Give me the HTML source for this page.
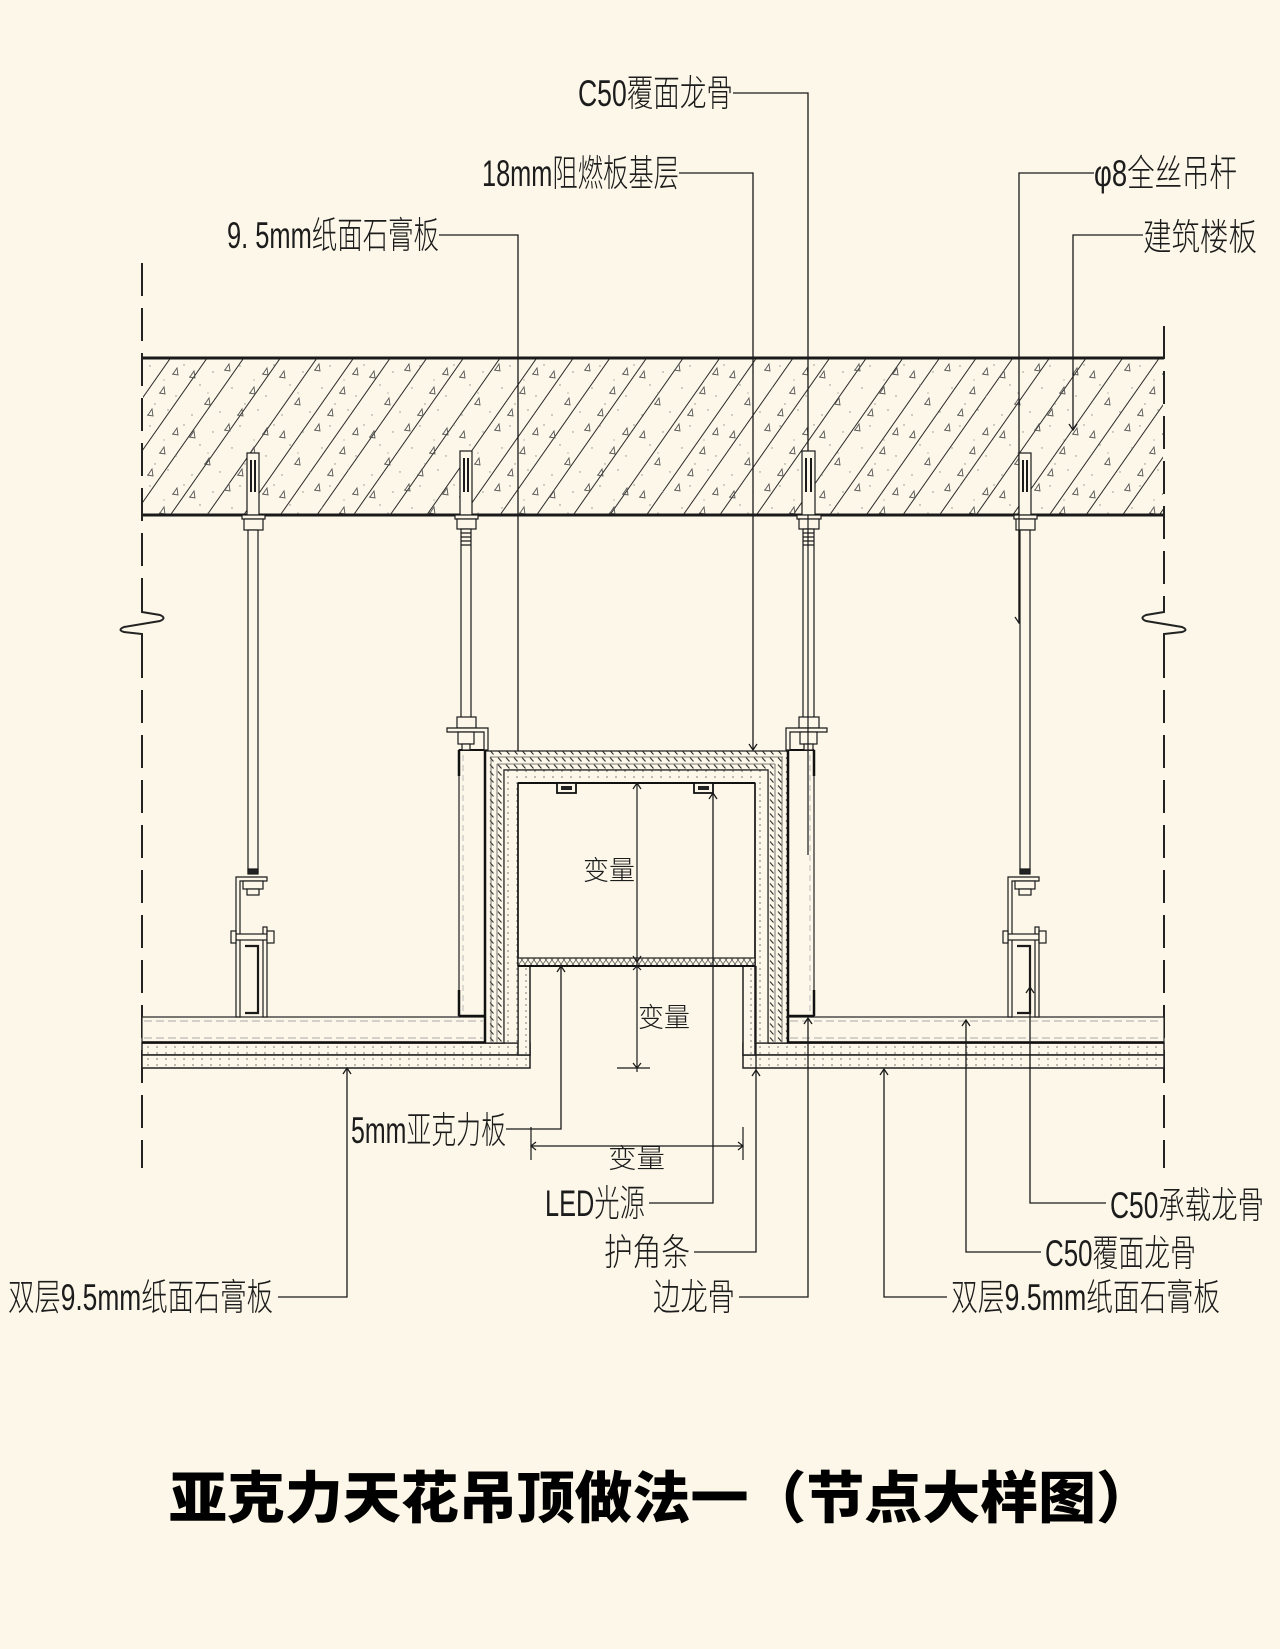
<!DOCTYPE html>
<html><head><meta charset="utf-8">
<style>
html,body{margin:0;padding:0;background:#fcf7e8;}
svg{display:block}
.l{font-family:"Liberation Sans Narrow","Liberation Sans","Noto Sans CJK SC",sans-serif;font-size:37px;fill:#1c1c1c;font-weight:300;}
.v{font-family:"Liberation Sans","Noto Sans CJK SC",sans-serif;font-size:27px;fill:#1c1c1c;font-weight:300;}
.t{font-family:"Liberation Sans","Noto Sans CJK SC",sans-serif;font-size:56px;font-weight:900;fill:#000;}
</style></head>
<body>
<svg width="1280" height="1649" viewBox="0 0 1280 1649" xmlns="http://www.w3.org/2000/svg">
<defs>
<pattern id="hatch" width="30" height="10" patternUnits="userSpaceOnUse" patternTransform="rotate(35)">
<line x1="15" y1="0" x2="15" y2="10" stroke="#2a2a2a" stroke-width="1"/></pattern>
<pattern id="speck" width="90" height="60" patternUnits="userSpaceOnUse">
<path d="M10 17 l4 -6 l1 7 l-6 -1 M45 10 l4 -6 l1 7 l-6 -1 M70 33 l4 -6 l1 7 l-6 -1 M25 44 l4 -6 l1 7 l-6 -1 M58 55 l4 -6 l1 7 l-6 -1 M83 14 l4 -6 l1 7 l-6 -1" fill="none" stroke="#555" stroke-width="0.9"/>
<g fill="#8a8a8a"><circle cx="4" cy="5" r="0.7"/><circle cx="20" cy="25" r="0.7"/><circle cx="33" cy="12" r="0.7"/><circle cx="52" cy="28" r="0.7"/><circle cx="65" cy="44" r="0.7"/><circle cx="78" cy="50" r="0.7"/><circle cx="40" cy="52" r="0.7"/><circle cx="12" cy="55" r="0.7"/><circle cx="86" cy="36" r="0.7"/><circle cx="60" cy="6" r="0.7"/><circle cx="28" cy="33" r="0.6"/><circle cx="74" cy="20" r="0.6"/></g>
</pattern>
<pattern id="dots" width="9" height="6" patternUnits="userSpaceOnUse"><circle cx="4" cy="3" r="0.75" fill="#666"/></pattern>
<pattern id="diag" width="8" height="7" patternUnits="userSpaceOnUse"><line x1="2" y1="1.5" x2="5.5" y2="5.5" stroke="#333" stroke-width="1.1"/></pattern>
<pattern id="xx" width="6" height="8" patternUnits="userSpaceOnUse"><path d="M0 0 L6 8 M6 0 L0 8" stroke="#555" stroke-width="0.8"/></pattern>
</defs>

<rect x="0" y="0" width="1280" height="1649" fill="#fcf7e8"/>

<!-- slab -->
<rect x="143" y="358" width="1020" height="157" fill="url(#hatch)"/>
<rect x="143" y="358" width="1020" height="157" fill="url(#speck)"/>
<line x1="142" y1="358" x2="1164" y2="358" stroke="#1a1a1a" stroke-width="3"/>
<line x1="142" y1="515" x2="1164" y2="515" stroke="#1a1a1a" stroke-width="3"/>

<!-- dashed boundary lines -->
<g stroke="#222" stroke-width="2" fill="none">
<line x1="142" y1="263" x2="142" y2="600" stroke-dasharray="33 12"/>
<line x1="142" y1="645" x2="142" y2="1168" stroke-dasharray="33 12"/>
<line x1="1164" y1="326" x2="1164" y2="600" stroke-dasharray="33 12"/>
<line x1="1164" y1="645" x2="1164" y2="1168" stroke-dasharray="33 12"/>
<path d="M142,598 V612 L160,615 Q167,618 160,621 L124,627 Q117,630 124,632 L142,634 V648"/>
<path d="M1164,598 V612 L1146,615 Q1139,618 1146,621 L1182,627 Q1189,630 1182,632 L1164,634 V648"/>
</g>

<!-- top leader lines -->
<g stroke="#1a1a1a" stroke-width="1.3" fill="none">
<path d="M439,235 H518 V781"/>
<path d="M679,173 H753 V750"/>
<path d="M733,93 H808 V855"/>
<path d="M1094,173 H1019 V623"/>
<path d="M1143,235 H1073 V430"/>
<path d="M514,775 L518,781 L522,775"/>
<path d="M749,744 L753,750 L757,744"/>
<path d="M804,849 L808,855 L812,849"/>
<path d="M1015,617 L1019,623 L1023,617"/>
<path d="M1069,424 L1073,430 L1077,424"/>
</g>

<!-- cover band (C50 覆面龙骨 layer) -->
<g stroke="#222">
<rect x="142" y="1017" width="343" height="25" fill="#fcf7e8" stroke-width="1.2"/>
<rect x="788" y="1017" width="376" height="25" fill="#fcf7e8" stroke-width="1.2"/>
<line x1="144" y1="1021" x2="483" y2="1021" stroke="#aaa" stroke-dasharray="8 4"/>
<line x1="144" y1="1038" x2="483" y2="1038" stroke="#aaa" stroke-dasharray="8 4"/>
<line x1="790" y1="1021" x2="1162" y2="1021" stroke="#aaa" stroke-dasharray="8 4"/>
<line x1="790" y1="1038" x2="1162" y2="1038" stroke="#aaa" stroke-dasharray="8 4"/>
</g>

<!-- bottom gypsum layers -->
<g stroke="#222" stroke-width="1.3">
<rect x="142" y="1043" width="388" height="12" fill="#fcf7e8"/>
<rect x="142" y="1043" width="388" height="12" fill="url(#dots)"/>
<rect x="142" y="1055" width="388" height="13" fill="#fcf7e8"/>
<rect x="142" y="1055" width="388" height="13" fill="url(#dots)"/>
<rect x="743" y="1043" width="421" height="12" fill="#fcf7e8"/>
<rect x="743" y="1043" width="421" height="12" fill="url(#dots)"/>
<rect x="743" y="1055" width="421" height="13" fill="#fcf7e8"/>
<rect x="743" y="1055" width="421" height="13" fill="url(#dots)"/>
<rect x="518" y="966" width="12" height="89" fill="#fcf7e8"/>
<rect x="518" y="966" width="12" height="89" fill="url(#dots)"/>
<rect x="743" y="966" width="12" height="89" fill="#fcf7e8"/>
<rect x="743" y="966" width="12" height="89" fill="url(#dots)"/>
</g>
<line x1="142" y1="1042.5" x2="505" y2="1042.5" stroke="#111" stroke-width="2.5"/>
<line x1="768" y1="1042.5" x2="1164" y2="1042.5" stroke="#111" stroke-width="2.5"/>

<!-- light box layers -->
<path d="M485,751 H788 V1043 H768 V770 H504 V1043 H485 Z" fill="#fcf7e8"/>
<path d="M485,751 H788 V1043 H768 V770 H504 V1043 H485 Z" fill="url(#diag)" stroke="#222" stroke-width="1.2"/>
<g stroke="#555" stroke-width="0.8">
<line x1="490" y1="757" x2="783" y2="757"/>
<line x1="497" y1="764" x2="775" y2="764"/>
<line x1="491" y1="757" x2="491" y2="1043"/>
<line x1="497" y1="764" x2="497" y2="1043"/>
<line x1="782" y1="757" x2="782" y2="1043"/>
<line x1="775" y1="764" x2="775" y2="1043"/>
</g>
<path d="M504,770 H768 V1043 H755 V783 H518 V1043 H504 Z" fill="#fcf7e8"/>
<path d="M504,770 H768 V1043 H755 V783 H518 V1043 H504 Z" fill="url(#dots)" stroke="#222" stroke-width="1.2"/>
<line x1="518" y1="783" x2="755" y2="783" stroke="#111" stroke-width="2"/>
<line x1="518" y1="783" x2="518" y2="966" stroke="#111" stroke-width="1.6"/>
<line x1="755" y1="783" x2="755" y2="966" stroke="#111" stroke-width="1.6"/>
<!-- acrylic -->
<rect x="518" y="958" width="237" height="8" fill="#fcf7e8"/>
<rect x="518" y="958" width="237" height="8" fill="url(#xx)" stroke="#222" stroke-width="1.2"/>
<line x1="518" y1="966" x2="755" y2="966" stroke="#111" stroke-width="2"/>

<!-- lights -->
<g>
<rect x="557" y="783" width="19" height="10" fill="#fcf7e8" stroke="#111" stroke-width="1.8"/>
<rect x="561" y="786" width="11" height="4" fill="#222"/>
<rect x="694" y="783" width="19" height="10" fill="#fcf7e8" stroke="#111" stroke-width="1.8"/>
<rect x="698" y="786" width="11" height="4" fill="#222"/>
</g>

<!-- C50 side boxes -->
<rect x="459" y="750" width="26" height="266" fill="#fcf7e8" stroke="#222" stroke-width="1.2"/>
<line x1="463" y1="755" x2="463" y2="1012" stroke="#bbb" stroke-dasharray="6 4"/>
<line x1="459" y1="750" x2="459" y2="776" stroke="#111" stroke-width="2.5"/>
<line x1="459" y1="990" x2="459" y2="1016" stroke="#111" stroke-width="2.5"/>
<line x1="459" y1="750" x2="485" y2="750" stroke="#111" stroke-width="2"/>
<line x1="459" y1="1016" x2="485" y2="1016" stroke="#111" stroke-width="2.5"/>
<line x1="485" y1="750" x2="485" y2="1043" stroke="#111" stroke-width="2.5"/>

<rect x="788" y="750" width="26" height="266" fill="#fcf7e8" stroke="#222" stroke-width="1.2"/>
<line x1="810" y1="755" x2="810" y2="1012" stroke="#bbb" stroke-dasharray="6 4"/>
<line x1="814" y1="750" x2="814" y2="776" stroke="#111" stroke-width="2.5"/>
<line x1="814" y1="990" x2="814" y2="1016" stroke="#111" stroke-width="2.5"/>
<line x1="788" y1="750" x2="814" y2="750" stroke="#111" stroke-width="2"/>
<line x1="788" y1="1016" x2="814" y2="1016" stroke="#111" stroke-width="2.5"/>
<line x1="788" y1="750" x2="788" y2="1043" stroke="#111" stroke-width="2.5"/>

<!-- hangers -->
<g stroke="#1a1a1a" stroke-width="1.2" fill="#fcf7e8">
<!-- hanger 1 -->
<rect x="247" y="453" width="12" height="62"/>
<line x1="251" y1="460" x2="251" y2="492" stroke-width="2"/><line x1="255" y1="460" x2="255" y2="492" stroke-width="2"/>
<rect x="242" y="515" width="23" height="4"/>
<rect x="244" y="519" width="19" height="11"/>
<rect x="248" y="530" width="10" height="343"/>
<rect x="248" y="869" width="10" height="5" fill="#222"/>
<!-- hanger 2 -->
<rect x="460" y="451" width="12" height="64"/>
<line x1="464" y1="458" x2="464" y2="492" stroke-width="2"/><line x1="468" y1="458" x2="468" y2="492" stroke-width="2"/>
<rect x="455" y="515" width="23" height="4"/>
<rect x="457" y="519" width="19" height="10"/>
<rect x="461" y="529" width="10" height="192"/>
<path d="M461,533 H471 M461,537 H471 M461,541 H471 M461,545 H471" fill="none"/>
<rect x="457" y="717" width="19" height="11"/>
<path d="M447,728 H488 V750 H484 V732 H447 Z"/>
<rect x="458" y="732" width="16" height="12"/>
<rect x="462" y="744" width="8" height="6"/>
<!-- hanger 3 -->
<rect x="802" y="451" width="13" height="64"/>
<line x1="806" y1="458" x2="806" y2="492" stroke-width="2"/><line x1="811" y1="458" x2="811" y2="492" stroke-width="2"/>
<rect x="797" y="515" width="24" height="4"/>
<rect x="799" y="519" width="20" height="10"/>
<rect x="803" y="529" width="11" height="192"/>
<path d="M803,533 H814 M803,537 H814 M803,541 H814 M803,545 H814" fill="none"/>
<rect x="799" y="717" width="20" height="11"/>
<path d="M786,728 H827 V732 H790 V750 H786 Z"/>
<rect x="800" y="732" width="17" height="12"/>
<rect x="804" y="744" width="9" height="6"/>
<!-- hanger 4 -->
<rect x="1019" y="453" width="12" height="62"/>
<line x1="1023" y1="460" x2="1023" y2="492" stroke-width="2"/><line x1="1027" y1="460" x2="1027" y2="492" stroke-width="2"/>
<rect x="1014" y="515" width="23" height="4"/>
<rect x="1016" y="519" width="19" height="11"/>
<rect x="1020" y="530" width="10" height="343"/>
<rect x="1020" y="869" width="10" height="5" fill="#222"/>

<!-- bracket left -->
<path d="M236,877 H267 V881 H240 V1017 H236 Z"/>
<rect x="243" y="881" width="20" height="8"/>
<rect x="247" y="889" width="12" height="6"/>
<rect x="263" y="927" width="4" height="90"/>
<rect x="236" y="934" width="31" height="6"/>
<rect x="231" y="931" width="5" height="12"/>
<rect x="267" y="931" width="7" height="12"/>
<path d="M245,946 H258 V1013 H245" fill="none" stroke-width="2.2"/>
<!-- bracket right -->
<path d="M1008,877 H1039 V881 H1012 V1017 H1008 Z"/>
<rect x="1015" y="881" width="20" height="8"/>
<rect x="1019" y="889" width="12" height="6"/>
<rect x="1035" y="927" width="4" height="90"/>
<rect x="1008" y="934" width="31" height="6"/>
<rect x="1003" y="931" width="5" height="12"/>
<rect x="1039" y="931" width="7" height="12"/>
<path d="M1017,946 H1030 V1013 H1017" fill="none" stroke-width="2.2"/>
</g>

<!-- leader over hanger 3 (C50) -->
<line x1="808" y1="515" x2="808" y2="855" stroke="#1a1a1a" stroke-width="1.2"/>
<line x1="1019" y1="515" x2="1019" y2="623" stroke="#1a1a1a" stroke-width="1.2"/>

<!-- dimensions -->
<g stroke="#1a1a1a" stroke-width="1.2" fill="none">
<line x1="637" y1="783" x2="637" y2="1072"/>
<line x1="617" y1="1068" x2="650" y2="1068"/>
<path d="M633,789 L637,783 L641,789"/>
<path d="M633,956 L637,962 L641,956"/>
<path d="M633,970 L637,966 L641,970"/>
<path d="M633,1063 L637,1068 L641,1063"/>
<line x1="531" y1="1127" x2="531" y2="1160"/>
<line x1="743" y1="1127" x2="743" y2="1160"/>
<line x1="531" y1="1146" x2="743" y2="1146"/>
<path d="M536,1142 L531,1146 L536,1150"/>
<path d="M738,1142 L743,1146 L738,1150"/>
</g>

<!-- bottom leader lines -->
<g stroke="#1a1a1a" stroke-width="1.3" fill="none">
<path d="M506,1129 H561 V966"/>
<path d="M557,972 L561,966 L565,972"/>
<path d="M649,1203 H713 V793"/>
<path d="M709,799 L713,793 L717,799"/>
<path d="M694,1252 H756 V966"/>
<path d="M752,1076 L756,1070 L760,1076"/>
<path d="M739,1297 H808 V1018"/>
<path d="M804,1024 L808,1018 L812,1024"/>
<path d="M278,1297 H347 V1068"/>
<path d="M343,1074 L347,1068 L351,1074"/>
<path d="M947,1297 H884 V1069"/>
<path d="M880,1075 L884,1069 L888,1075"/>
<path d="M1041,1252 H966 V1020"/>
<path d="M962,1026 L966,1020 L970,1026"/>
<path d="M1106,1203 H1030 V987"/>
<path d="M1026,993 L1030,987 L1034,993"/>
</g>

<!-- labels -->
<text class="l" x="578" y="106" textLength="155" lengthAdjust="spacingAndGlyphs">C50覆面龙骨</text>
<text class="l" x="482" y="186" textLength="197" lengthAdjust="spacingAndGlyphs">18mm阻燃板基层</text>
<text class="l" x="227" y="248" textLength="212" lengthAdjust="spacingAndGlyphs">9. 5mm纸面石膏板</text>
<text class="l" x="1094" y="186" textLength="143" lengthAdjust="spacingAndGlyphs">φ8全丝吊杆</text>
<text class="l" x="1143" y="250" textLength="114" lengthAdjust="spacingAndGlyphs">建筑楼板</text>
<text class="l" x="351" y="1143" textLength="155" lengthAdjust="spacingAndGlyphs">5mm亚克力板</text>
<text class="v" x="608" y="1168" textLength="57" lengthAdjust="spacingAndGlyphs">变量</text>
<text class="l" x="545" y="1216" textLength="100" lengthAdjust="spacingAndGlyphs">LED光源</text>
<text class="l" x="604" y="1265" textLength="86" lengthAdjust="spacingAndGlyphs">护角条</text>
<text class="l" x="653" y="1310" textLength="82" lengthAdjust="spacingAndGlyphs">边龙骨</text>
<text class="l" x="8" y="1310" textLength="265" lengthAdjust="spacingAndGlyphs">双层9.5mm纸面石膏板</text>
<text class="l" x="1110" y="1218" textLength="154" lengthAdjust="spacingAndGlyphs">C50承载龙骨</text>
<text class="l" x="1045" y="1266" textLength="151" lengthAdjust="spacingAndGlyphs">C50覆面龙骨</text>
<text class="l" x="951" y="1310" textLength="269" lengthAdjust="spacingAndGlyphs">双层9.5mm纸面石膏板</text>
<text class="v" x="583" y="880" textLength="52" lengthAdjust="spacingAndGlyphs">变量</text>
<text class="v" x="638" y="1027" textLength="52" lengthAdjust="spacingAndGlyphs">变量</text>

<!-- title -->
<text class="t" x="169" y="1518" textLength="985" lengthAdjust="spacingAndGlyphs">亚克力天花吊顶做法一（节点大样图）</text>
</svg>
</body></html>
